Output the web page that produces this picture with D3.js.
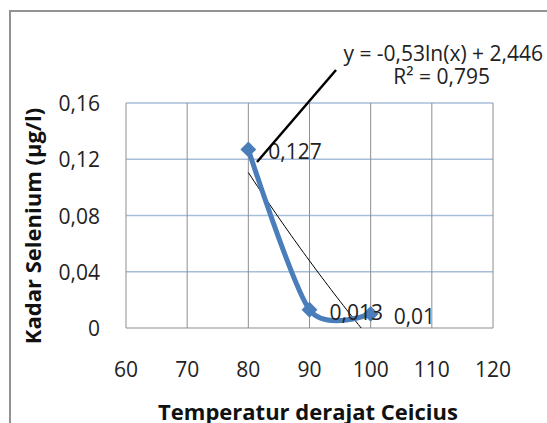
<!DOCTYPE html>
<html>
<head>
<meta charset="utf-8">
<script src="https://cdn.jsdelivr.net/npm/d3@7"></script>
<style>
  body { margin: 0; background: #fff; }
  svg { display: block; font-family: "Open Sans", sans-serif; }
</style>
</head>
<body>
<svg id="chart" width="547" height="423"></svg>
<script>
// data
var suhu = [80, 90, 100];
var kadar = [0.127, 0.013, 0.01];
var labelKadar = ['0,127', '0,013', '0,01'];
var xTicks = [60, 70, 80, 90, 100, 110, 120];
var yTicks = [0, 0.04, 0.08, 0.12, 0.16];
var yTickLabels = ['0', '0,04', '0,08', '0,12', '0,16'];
var eqLines = ['y = -0,53ln(x) + 2,446', 'R² = 0,795'];

var svg = d3.select('#chart');

var x = d3.scaleLinear().domain([60, 120]).range([126, 493]);
var y = d3.scaleLinear().domain([0, 0.16]).range([328, 103]);

// outer chart border
svg.append('rect')
  .attr('x', 10).attr('y', 11)
  .attr('width', 560).attr('height', 430)
  .attr('fill', 'none')
  .attr('stroke', '#929292')
  .attr('stroke-width', 2);

// horizontal gridlines (light blue)
svg.append('g')
  .selectAll('line')
  .data(yTicks.slice(1))
  .enter().append('line')
  .attr('x1', x(60)).attr('x2', x(120))
  .attr('y1', function(d) { return y(d) })
  .attr('y2', function(d) { return y(d) })
  .attr('stroke', '#a7bedb')
  .attr('stroke-width', 1.5);

// vertical gridlines (gray)
svg.append('g')
  .selectAll('line')
  .data(xTicks)
  .enter().append('line')
  .attr('x1', function(d) { return x(d) })
  .attr('x2', function(d) { return x(d) })
  .attr('y1', y(0.16)).attr('y2', y(0))
  .attr('stroke', '#8e8e8e')
  .attr('stroke-width', 1);

// x axis line
svg.append('line')
  .attr('x1', x(60)).attr('x2', x(120))
  .attr('y1', y(0)).attr('y2', y(0))
  .attr('stroke', '#8e8e8e')
  .attr('stroke-width', 1.2);

// tick labels
svg.append('g')
  .selectAll('text')
  .data(yTicks)
  .enter().append('text')
  .attr('x', 100)
  .attr('y', function(d) { return y(d) + 8 })
  .attr('text-anchor', 'end')
  .attr('font-size', 21)
  .attr('fill', '#222')
  .text(function(d, i) { return yTickLabels[i] });

svg.append('g')
  .selectAll('text')
  .data(xTicks)
  .enter().append('text')
  .attr('x', function(d) { return x(d) })
  .attr('y', 377)
  .attr('text-anchor', 'middle')
  .attr('font-size', 21)
  .attr('fill', '#222')
  .text(function(d) { return d });

// axis titles
svg.append('text')
  .attr('x', 308).attr('y', 420)
  .attr('text-anchor', 'middle')
  .attr('font-size', 22)
  .attr('font-weight', 'bold')
  .attr('fill', '#111')
  .text('Temperatur derajat Ceicius');

svg.append('text')
  .attr('transform', 'translate(41,226) rotate(-90)')
  .attr('text-anchor', 'middle')
  .attr('font-size', 22)
  .attr('font-weight', 'bold')
  .attr('fill', '#111')
  .text('Kadar Selenium (µg/l)');

// logarithmic trendline, least squares on ln(x)
var lx = suhu.map(function(d) { return Math.log(d) });
var mx = d3.mean(lx), my = d3.mean(kadar);
var sxy = d3.sum(lx, function(d, i) { return (d - mx) * (kadar[i] - my) });
var sxx = d3.sum(lx, function(d) { return (d - mx) * (d - mx) });
var b = sxy / sxx, a = my - b * mx;
var xEnd = Math.exp(-a / b);  // where the trend meets y = 0
var trendX = d3.range(80, xEnd, 0.5).concat([xEnd]);

svg.append('path')
  .datum(trendX)
  .attr('fill', 'none')
  .attr('stroke', '#000')
  .attr('stroke-width', 1)
  .attr('d', d3.line()
    .x(function(d) { return x(d) })
    .y(function(d) { return y(a + b * Math.log(d)) }));

// smoothed series
var pts = suhu.map(function(d, i) { return [d, kadar[i]] });

svg.append('path')
  .datum(pts)
  .attr('fill', 'none')
  .attr('stroke', '#4a7ebb')
  .attr('stroke-width', 5)
  .attr('stroke-linecap', 'round')
  .attr('d', d3.line()
    .curve(d3.curveCardinal.tension(0.2))
    .x(function(d) { return x(d[0]) })
    .y(function(d) { return y(d[1]) }));

svg.append('g')
  .selectAll('path')
  .data(pts)
  .enter().append('path')
  .attr('transform', function(d) { return 'translate(' + x(d[0]) + ',' + y(d[1]) + ')' })
  .attr('d', d3.symbol().type(d3.symbolDiamond2).size(160))
  .attr('fill', '#4a7ebb');

// data labels
svg.append('g')
  .selectAll('text')
  .data(pts)
  .enter().append('text')
  .attr('x', function(d, i) { return x(d[0]) + (i == 2 ? 23 : 20) })
  .attr('y', function(d) { return y(d[1]) + 10 })
  .attr('font-size', 21)
  .attr('fill', '#222')
  .text(function(d, i) { return labelKadar[i] });

// equation label and its leader line
svg.append('line')
  .attr('x1', 257).attr('y1', 162)
  .attr('x2', 336).attr('y2', 70)
  .attr('stroke', '#000')
  .attr('stroke-width', 2.5);

svg.append('g')
  .selectAll('text')
  .data(eqLines)
  .enter().append('text')
  .attr('x', function(d, i) { return i ? 490 : 543 })
  .attr('y', function(d, i) { return 61 + i * 23 })
  .attr('text-anchor', 'end')
  .attr('font-size', 21)
  .attr('fill', '#222')
  .text(function(d) { return d });
</script>
</body>
</html>
